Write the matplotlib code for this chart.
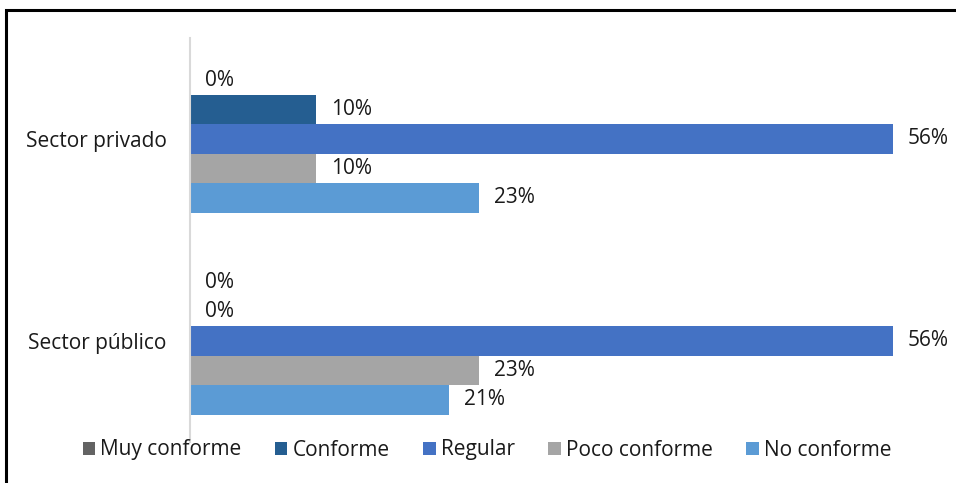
import numpy as np
import matplotlib.pyplot as plt
from matplotlib.patches import Rectangle

# data
sectors = ['Sector privado', 'Sector público']
series = ['Muy conforme', 'Conforme', 'Regular', 'Poco conforme', 'No conforme']
privado = [0, 10, 56, 10, 23]
publico = [0, 0, 56, 23, 20.6]
colors = ['#636363', '#255E91', '#4472C4', '#A5A5A5', '#5B9BD5']

plt.rcParams['font.family'] = ['Open Sans', 'DejaVu Sans']
fs = 15

fig = plt.figure(figsize=(9.56, 4.83), dpi=100)
ax = fig.add_axes([190 / 956, 1 - 442 / 483, 753 / 956, 404 / 483])

values = np.array([privado, publico])
y = np.arange(len(sectors))
n = len(series)
h = 0.73 / n
for i, name in enumerate(series):
    pos = y - 0.73 / 2 + h * (i + 0.5)
    bars = ax.barh(pos, values[:, i], height=h, color=colors[i], label=name)
    for b, v in zip(bars, values[:, i]):
        ax.annotate(f'{v:.0f}%', (b.get_width(), b.get_y() + b.get_height() / 2),
                    xytext=(11, 0), textcoords='offset points',
                    ha='left', va='center', fontsize=fs, color='#1a1a1a')

ax.set_xlim(0, 60)
ax.set_ylim(1.5, -0.5)
ax.set_yticks(y)
ax.set_yticklabels(sectors, fontsize=fs, color='#1a1a1a')
ax.tick_params(axis='y', length=0, pad=17)
ax.set_xticks([])
for s in ['top', 'right', 'bottom']:
    ax.spines[s].set_visible(False)
ax.spines['left'].set_color('#D9D9D9')
ax.spines['left'].set_linewidth(1.5)

leg = fig.legend(loc='center', bbox_to_anchor=(487 / 956, 1 - 450 / 483), ncol=5,
                 frameon=False, fontsize=fs, handlelength=0.6, handleheight=0.6,
                 handletextpad=0.25, columnspacing=1.6)
for t in leg.get_texts():
    t.set_color('#1a1a1a')

# outer frame (cut by the picture edge on the right and bottom)
fig.patches.append(Rectangle((6 / 956, -0.1), 1.2, 1 - 10 / 483 + 0.1,
                             transform=fig.transFigure, fill=False,
                             edgecolor='black', linewidth=2.2))

fig.savefig('out.png', dpi=100)
